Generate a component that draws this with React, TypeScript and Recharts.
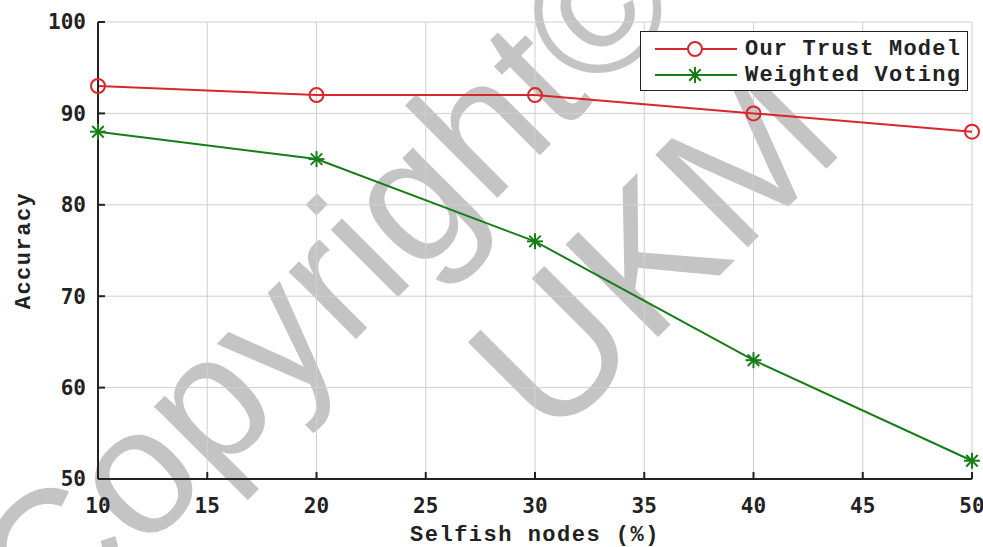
import React from "react";
import {
  LineChart,
  Line,
  XAxis,
  YAxis,
  CartesianGrid,
} from "recharts";

const nodes = [10, 20, 30, 40, 50];
const trustModel = [93, 92, 92, 90, 88];
const weightedVoting = [88, 85, 76, 63, 52];
const xTicks = [10, 15, 20, 25, 30, 35, 40, 45, 50];
const yTicks = [50, 60, 70, 80, 90, 100];
const seriesNames = ["Our Trust Model", "Weighted Voting"];

const data = nodes.map((n, i) => ({
  nodes: n,
  trust: trustModel[i],
  voting: weightedVoting[i],
}));

const RED = "#d9262b";
const GREEN = "#177d17";
const tickFont = "'DejaVu Sans Mono', monospace";
const labelFont = "'Liberation Mono', 'Courier New', monospace";

const Star = (props: any) => {
  const { cx, cy } = props;
  if (cx == null || cy == null) return null;
  const r = 8;
  const d = r * 0.72;
  return (
    <g stroke={GREEN} strokeWidth={2}>
      <line x1={cx - r} y1={cy} x2={cx + r} y2={cy} />
      <line x1={cx} y1={cy - r} x2={cx} y2={cy + r} />
      <line x1={cx - d} y1={cy - d} x2={cx + d} y2={cy + d} />
      <line x1={cx - d} y1={cy + d} x2={cx + d} y2={cy - d} />
    </g>
  );
};

// legend box drawn over the plot, top right like the matlab one
const LegendBox = () => (
  <div
    style={{
      position: "absolute",
      left: 640,
      top: 31,
      border: "1.5px solid #222",
      background: "#fff",
      width: 328,
      height: 60,
      boxSizing: "border-box",
      padding: "4px 0 0 12px",
    }}
  >
    {seriesNames.map((name, i) => (
      <div key={name} style={{ display: "flex", alignItems: "center", height: 26 }}>
        <svg width={92} height={24}>
          <line x1={2} y1={12} x2={84} y2={12} stroke={i ? GREEN : RED} strokeWidth={2} />
          {i ? (
            <Star cx={42} cy={12} />
          ) : (
            <circle cx={42} cy={12} r={7} fill="#fff" stroke={RED} strokeWidth={2} />
          )}
        </svg>
        <span
          style={{
            fontFamily: labelFont,
            fontWeight: "bold",
            fontSize: 22,
            color: "#222",
            letterSpacing: 1.2,
          }}
        >
          {name}
        </span>
      </div>
    ))}
  </div>
);

const Watermark = () => (
  <svg
    width={983}
    height={547}
    style={{ position: "absolute", left: 0, top: 0, pointerEvents: "none" }}
  >
    <g fill="#c4c4c4" fontFamily="'Liberation Sans', Arial, sans-serif">
      <text x={50} y={645} fontSize={180} transform="rotate(-45 50 645)">
        Copyright©
      </text>
      <text x={550} y={445} fontSize={190} transform="rotate(-45 550 445)">
        UKM
      </text>
    </g>
  </svg>
);

export default function App() {
  return (
    <div style={{ position: "absolute", left: 0, top: 0, width: 983, height: 547, background: "#fff" }}>
      <Watermark />
      <div style={{ position: "absolute", left: 0, top: 0 }}>
        <LineChart
          width={983}
          height={547}
          data={data}
          margin={{ top: 22, right: 11, bottom: 0, left: 0 }}
        >
          <CartesianGrid stroke="#cfcfcf" strokeWidth={1} />
          <XAxis
            dataKey="nodes"
            type="number"
            domain={[10, 50]}
            ticks={xTicks}
            height={68}
            tickSize={-7}
            tickMargin={26}
            axisLine={{ stroke: "#222", strokeWidth: 2 }}
            tickLine={{ stroke: "#222", strokeWidth: 2 }}
            tick={{ fontFamily: tickFont, fontWeight: "bold", fontSize: 21, fill: "#222" }}
            label={{
              value: "Selfish nodes (%)",
              position: "insideBottom",
              offset: 6,
              style: { fontFamily: labelFont, fontWeight: "bold", fontSize: 22, fill: "#222", letterSpacing: 1.5 },
            }}
          />
          <XAxis
            xAxisId="top"
            orientation="top"
            dataKey="nodes"
            type="number"
            domain={[10, 50]}
            ticks={xTicks}
            height={0}
            tickSize={-7}
            axisLine={{ stroke: "#222", strokeWidth: 2 }}
            tickLine={{ stroke: "#222", strokeWidth: 2 }}
            tick={() => <g />}
          />
          <YAxis
            type="number"
            domain={[50, 100]}
            ticks={yTicks}
            width={98}
            tickSize={-7}
            tickMargin={19}
            axisLine={{ stroke: "#222", strokeWidth: 2 }}
            tickLine={{ stroke: "#222", strokeWidth: 2 }}
            tick={{ fontFamily: tickFont, fontWeight: "bold", fontSize: 21, fill: "#222" }}
            label={{
              value: "Accuracy",
              angle: -90,
              position: "insideLeft",
              offset: 22,
              style: { textAnchor: "middle", fontFamily: labelFont, fontWeight: "bold", fontSize: 22, fill: "#222", letterSpacing: 1.5 },
            }}
          />
          <YAxis
            yAxisId="right"
            orientation="right"
            type="number"
            domain={[50, 100]}
            ticks={yTicks}
            width={0}
            tickSize={-7}
            axisLine={{ stroke: "#222", strokeWidth: 2 }}
            tickLine={{ stroke: "#222", strokeWidth: 2 }}
            tick={() => <g />}
          />
          <Line
            dataKey="trust"
            name={seriesNames[0]}
            stroke={RED}
            strokeWidth={2}
            dot={{ r: 7, fill: "none", stroke: RED, strokeWidth: 2 }}
            isAnimationActive={false}
          />
          <Line
            dataKey="voting"
            name={seriesNames[1]}
            stroke={GREEN}
            strokeWidth={2}
            dot={<Star />}
            isAnimationActive={false}
          />
        </LineChart>
      </div>
      <LegendBox />
    </div>
  );
}
